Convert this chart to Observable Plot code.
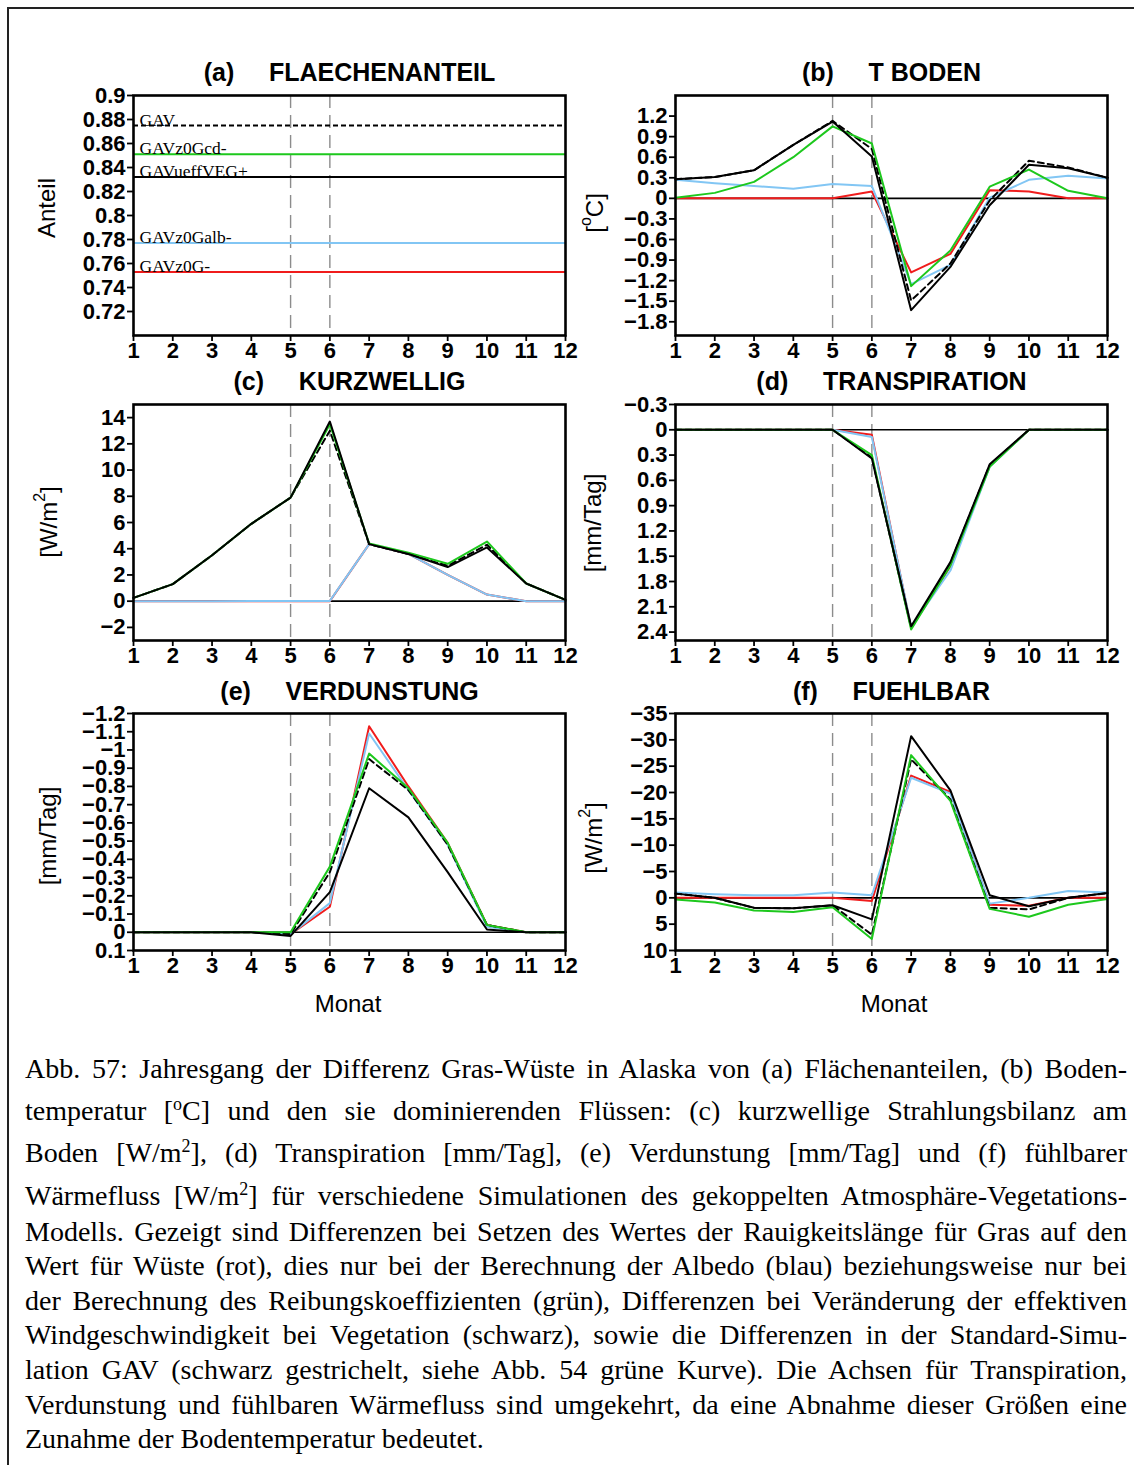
<!DOCTYPE html>
<html>
<head>
<meta charset="utf-8">
<script src="https://cdn.jsdelivr.net/npm/d3@7"></script>
<script src="https://cdn.jsdelivr.net/npm/@observablehq/plot@0.6"></script>
<style>
  body { margin: 0; background: #fff; }
  #page { position: relative; width: 1134px; height: 1465px; overflow: hidden; background: #fff; }
  .panel { position: absolute; }
  .panel svg { overflow: visible; display: block; }
  #bTop { position: absolute; left: 7px; top: 7px; width: 1127px; height: 2px; background: #222; }
  #bLeft { position: absolute; left: 7px; top: 7px; width: 2px; height: 1458px; background: #222; }
  .cap { position: absolute; left: 25px; width: 1102px; font-family: "Liberation Serif", "Times New Roman", serif;
         font-size: 28px; line-height: 28px; white-space: nowrap; text-align: justify; text-align-last: justify; color: #000; }
  .cap.last { text-align: left; text-align-last: left; }
  .cap sup { font-size: 18px; line-height: 0; vertical-align: 10px; }
</style>
</head>
<body>
<div id="page">
  <div id="bTop"></div>
  <div id="bLeft"></div>
</div>
<script>
// ---------------- data ----------------
const months = [1, 2, 3, 4, 5, 6, 7, 8, 9, 10, 11, 12];
const monthTicks = [1, 2, 3, 4, 5, 6, 7, 8, 9, 10, 11, 12];
const markedMonths = [5, 6];

// (a) Flaechenanteil
const anteilNames = ["GAV", "GAVz0Gcd-", "GAVueffVEG+", "GAVz0Galb-", "GAVz0G-"];
const anteilKeys = ["gestrichelt", "gruen", "schwarz", "blau", "rot"];
const anteilValues = [0.875, 0.851, 0.832, 0.777, 0.753];
const anteilTicks = [0.72, 0.74, 0.76, 0.78, 0.8, 0.82, 0.84, 0.86, 0.88, 0.9];

// (b) T Boden
const tRot       = [0, 0, 0, 0, 0, 0.10, -1.08, -0.81, 0.12, 0.10, 0, 0];
const tBlau      = [0.27, 0.22, 0.18, 0.14, 0.21, 0.18, -1.25, -0.97, 0.01, 0.27, 0.33, 0.29];
const tGruen     = [0.01, 0.08, 0.24, 0.60, 1.05, 0.80, -1.28, -0.76, 0.17, 0.42, 0.11, 0.0];
const tSchwarz   = [0.28, 0.31, 0.41, 0.78, 1.12, 0.61, -1.63, -1.00, -0.10, 0.49, 0.44, 0.30];
const tGestr     = [0.28, 0.31, 0.41, 0.78, 1.13, 0.72, -1.49, -0.95, -0.03, 0.55, 0.45, 0.30];
const tTicks = [-1.8, -1.5, -1.2, -0.9, -0.6, -0.3, 0, 0.3, 0.6, 0.9, 1.2];

// (c) Kurzwellig
const kRot       = [0, 0, 0, 0, 0, 0, 4.35, 3.6, 2.0, 0.5, 0, 0];
const kBlau      = [0, 0, 0, 0.02, 0.02, 0.02, 4.35, 3.6, 2.0, 0.5, 0, 0];
const kGruen     = [0.25, 1.3, 3.5, 5.9, 7.9, 13.5, 4.4, 3.7, 2.85, 4.55, 1.35, 0.1];
const kSchwarz   = [0.25, 1.3, 3.5, 5.9, 7.9, 13.7, 4.35, 3.6, 2.6, 4.1, 1.35, 0.1];
const kGestr     = [0.25, 1.3, 3.5, 5.9, 7.9, 13.0, 4.35, 3.6, 2.7, 4.3, 1.35, 0.1];
const kTicks = [-2, 0, 2, 4, 6, 8, 10, 12, 14];

// (d) Transpiration
const trRot      = [0, 0, 0, 0, 0, 0.06, 2.35, 1.62, 0.43, 0, 0, 0];
const trBlau     = [0, 0, 0, 0, 0, 0.085, 2.34, 1.67, 0.44, 0, 0, 0];
const trGruen    = [0, 0, 0, 0, 0, 0.30, 2.37, 1.61, 0.44, 0, 0, 0];
const trSchwarz  = [0, 0, 0, 0, 0, 0.34, 2.33, 1.57, 0.41, 0, 0, 0];
const trGestr    = [0, 0, 0, 0, 0, 0.33, 2.35, 1.58, 0.42, 0, 0, 0];
const trTicks = [-0.3, 0, 0.3, 0.6, 0.9, 1.2, 1.5, 1.8, 2.1, 2.4];

// (e) Verdunstung
const vRot       = [0, 0, 0, 0, 0.01, -0.14, -1.13, -0.80, -0.49, -0.04, 0, 0];
const vBlau      = [0, 0, 0, 0, 0.01, -0.16, -1.09, -0.78, -0.48, -0.03, 0, 0];
const vGruen     = [0, 0, 0, 0, 0.0, -0.36, -0.98, -0.79, -0.49, -0.04, 0, 0];
const vSchwarz   = [0, 0, 0, 0, 0.02, -0.22, -0.79, -0.63, -0.33, -0.015, 0, 0];
const vGestr     = [0, 0, 0, 0, 0.01, -0.33, -0.95, -0.78, -0.48, -0.04, 0, 0];
const vTicks = [-1.2, -1.1, -1, -0.9, -0.8, -0.7, -0.6, -0.5, -0.4, -0.3, -0.2, -0.1, 0, 0.1];

// (f) Fuehlbar
const fRot       = [0, 0, 0, 0, 0, 0.6, -23.2, -20.1, 1.3, 1.5, 0, 0];
const fBlau      = [-1.0, -0.7, -0.5, -0.5, -1.0, -0.5, -22.8, -19.8, 1.1, 0, -1.3, -1.0];
const fGruen     = [0.3, 0.9, 2.4, 2.7, 1.8, 7.8, -27.1, -18.4, 2.1, 3.6, 1.3, 0.2];
const fSchwarz   = [-0.8, 0, 1.9, 2.0, 1.4, 4.1, -30.7, -20.4, -0.5, 1.6, 0, -0.9];
const fGestr     = [-0.8, 0, 1.9, 2.0, 1.4, 7.0, -26.3, -18.7, 1.9, 2.2, 0, -0.9];
const fTicks = [-35, -30, -25, -20, -15, -10, -5, 0, 5, 10];

// ---------------- styles ----------------
const drawOrder = ["rot", "blau", "gestrichelt", "gruen", "schwarz"];
const colors = { rot: "#f01c1c", blau: "#82c6f4", gruen: "#1dc81d", schwarz: "#000000", gestrichelt: "#000000" };
const dashes = { gestrichelt: "6,4" };
const SANS = "'Liberation Sans', Arial, Helvetica, sans-serif";
const fmt = d => (d < 0 ? "\u2212" : "") + String(Math.abs(d));

const page = document.getElementById("page");

function makePanel(cfg) {
  const marks = [];
  marks.push(Plot.ruleX(markedMonths, { stroke: "#8c8c8c", strokeWidth: 1.4, strokeDasharray: "13,7" }));
  if (cfg.zero) marks.push(Plot.ruleY([0], { stroke: "#000", strokeWidth: 1.6 }));
  if (cfg.rules) {
    for (const key of drawOrder) {
      const r = cfg.rules.filter(d => d.key === key);
      marks.push(Plot.ruleY(r, { y: "value", stroke: colors[key], strokeWidth: 2, strokeDasharray: key === "gestrichelt" ? "5,3" : null }));
    }
    marks.push(Plot.text(cfg.rules, { y: "value", text: "name", frameAnchor: "left", dx: 6, dy: 0, textAnchor: "start", lineAnchor: "bottom",
      fontFamily: "'Liberation Serif', 'Times New Roman', serif", fontSize: 17.5, fontWeight: "normal", fill: "#000" }));
  }
  if (cfg.series) {
    for (const key of drawOrder) {
      const vals = cfg.series[key];
      if (!vals) continue;
      const rows = vals.map((v, i) => ({ month: months[i], value: v }));
      marks.push(Plot.line(rows, { x: "month", y: "value", stroke: colors[key], strokeWidth: 2, strokeDasharray: dashes[key] || null }));
    }
  }
  marks.push(Plot.frame({ stroke: "#000", strokeWidth: 2.6 }));
  marks.push(Plot.axisX({ ticks: monthTicks, tickSize: 6, tickPadding: 1, strokeWidth: 1.8, label: null, tickFormat: d => String(d),
    fontSize: 22, fontWeight: "bold", fontFamily: SANS }));
  marks.push(Plot.axisY({ ticks: cfg.ticks, tickSize: 6, tickPadding: 2, strokeWidth: 1.8, label: null, tickFormat: fmt,
    fontSize: 22, fontWeight: "bold", fontFamily: SANS }));
  marks.push(Plot.text([cfg.title], { text: d => d, frameAnchor: "top", lineAnchor: "middle", dy: cfg.titleDy,
    fontSize: 25, fontWeight: "bold", fontFamily: SANS, fill: "#000" }));

  const svg = Plot.plot({
    width: cfg.w, height: cfg.h,
    marginLeft: cfg.mL, marginRight: cfg.mR, marginTop: cfg.mT, marginBottom: cfg.mB,
    x: { domain: [1, 12] },
    y: { domain: cfg.domain, reverse: !!cfg.reverse },
    style: { background: "transparent", overflow: "visible", color: "#000", fontFamily: SANS, maxWidth: "none" },
    marks
  });
  const div = document.createElement("div");
  div.className = "panel";
  div.style.left = cfg.left + "px";
  div.style.top = cfg.top + "px";
  div.appendChild(svg);
  page.appendChild(div);

  const s = d3.select(svg);
  const t = s.append("text")
    .attr("transform", `translate(${cfg.ylab[0] - cfg.left},${cfg.ylab[1] - cfg.top}) rotate(-90)`)
    .attr("text-anchor", "middle").attr("dominant-baseline", "central")
    .attr("font-family", SANS).attr("font-size", 24).attr("fill", "#000");
  cfg.ylabParts.forEach(p => {
    const ts = t.append("tspan").text(p.t);
    if (p.sup) ts.attr("dy", -9).attr("font-size", 16);
    if (p.after) ts.attr("dy", 9);
  });
  if (cfg.xlab) {
    s.append("text").attr("x", cfg.xlab[0] - cfg.left).attr("y", cfg.xlab[1] - cfg.top)
      .attr("text-anchor", "middle").attr("dominant-baseline", "central")
      .attr("font-family", SANS).attr("font-size", 24).attr("fill", "#000").text("Monat");
  }
}

const NB = "\u00a0\u00a0\u00a0\u00a0\u00a0";
const L = { left: 0, w: 580, mL: 133, mR: 15 };
const R = { left: 560, w: 574, mL: 115, mR: 27 };
const row1 = { top: 40, h: 330, mT: 55, mB: 35, titleDy: -23 };
const row2 = { top: 350, h: 330, mT: 54, mB: 40, titleDy: -23 };
const row3 = { top: 660, h: 360, mT: 53, mB: 70, titleDy: -22 };

makePanel({ ...L, ...row1, title: "(a)" + NB + "FLAECHENANTEIL", domain: [0.7, 0.9], ticks: anteilTicks,
  rules: anteilValues.map((v, i) => ({ value: v, key: anteilKeys[i], name: anteilNames[i] })),
  ylab: [46, 208], ylabParts: [{ t: "Anteil" }] });

makePanel({ ...R, ...row1, title: "(b)" + NB + "T BODEN", domain: [-2.0, 1.5], ticks: tTicks, zero: true,
  series: { rot: tRot, blau: tBlau, gestrichelt: tGestr, gruen: tGruen, schwarz: tSchwarz },
  ylab: [594, 213], ylabParts: [{ t: "[" }, { t: "o", sup: true }, { t: "C]", after: true }] });

makePanel({ ...L, ...row2, title: "(c)" + NB + "KURZWELLIG", domain: [-3, 15], ticks: kTicks, zero: true,
  series: { rot: kRot, blau: kBlau, gestrichelt: kGestr, gruen: kGruen, schwarz: kSchwarz },
  ylab: [48, 522], ylabParts: [{ t: "[W/m" }, { t: "2", sup: true }, { t: "]", after: true }] });

makePanel({ ...R, ...row2, title: "(d)" + NB + "TRANSPIRATION", domain: [-0.3, 2.5], reverse: true, ticks: trTicks, zero: true,
  series: { rot: trRot, blau: trBlau, gestrichelt: trGestr, gruen: trGruen, schwarz: trSchwarz },
  ylab: [592, 523], ylabParts: [{ t: "[mm/Tag]" }] });

makePanel({ ...L, ...row3, title: "(e)" + NB + "VERDUNSTUNG", domain: [-1.2, 0.1], reverse: true, ticks: vTicks, zero: true,
  series: { rot: vRot, blau: vBlau, gestrichelt: vGestr, gruen: vGruen, schwarz: vSchwarz },
  ylab: [47, 836], ylabParts: [{ t: "[mm/Tag]" }], xlab: [348, 1003] });

makePanel({ ...R, ...row3, title: "(f)" + NB + "FUEHLBAR", domain: [-35, 10], reverse: true, ticks: fTicks, zero: true,
  series: { rot: fRot, blau: fBlau, gestrichelt: fGestr, gruen: fGruen, schwarz: fSchwarz },
  ylab: [593, 838], ylabParts: [{ t: "[W/m" }, { t: "2", sup: true }, { t: "]", after: true }], xlab: [894, 1003] });

// ---------------- caption ----------------
const captionLines = [
  "Abb. 57: Jahresgang der Differenz Gras-Wüste in Alaska von (a) Flächenanteilen, (b) Boden-",
  "temperatur [<sup>o</sup>C] und den sie dominierenden Flüssen: (c) kurzwellige Strahlungsbilanz am",
  "Boden [W/m<sup>2</sup>], (d) Transpiration [mm/Tag], (e) Verdunstung [mm/Tag] und (f) fühlbarer",
  "Wärmefluss [W/m<sup>2</sup>] für verschiedene Simulationen des gekoppelten Atmosphäre-Vegetations-",
  "Modells. Gezeigt sind Differenzen bei Setzen des Wertes der Rauigkeitslänge für Gras auf den",
  "Wert für Wüste (rot), dies nur bei der Berechnung der Albedo (blau) beziehungsweise nur bei",
  "der Berechnung des Reibungskoeffizienten (grün), Differenzen bei Veränderung der effektiven",
  "Windgeschwindigkeit bei Vegetation (schwarz), sowie die Differenzen in der Standard-Simu-",
  "lation GAV (schwarz gestrichelt, siehe Abb. 54 grüne Kurve). Die Achsen für Transpiration,",
  "Verdunstung und fühlbaren Wärmefluss sind umgekehrt, da eine Abnahme dieser Größen eine",
  "Zunahme der Bodentemperatur bedeutet."
];
const captionCenters = [1073, 1115, 1157, 1200, 1236, 1270, 1305, 1339, 1374, 1409, 1443];
captionLines.forEach((html, i) => {
  const d = document.createElement("div");
  d.className = "cap" + (i === captionLines.length - 1 ? " last" : "");
  d.style.top = (captionCenters[i] - 18) + "px";
  d.innerHTML = html;
  page.appendChild(d);
});
</script>
</body>
</html>
